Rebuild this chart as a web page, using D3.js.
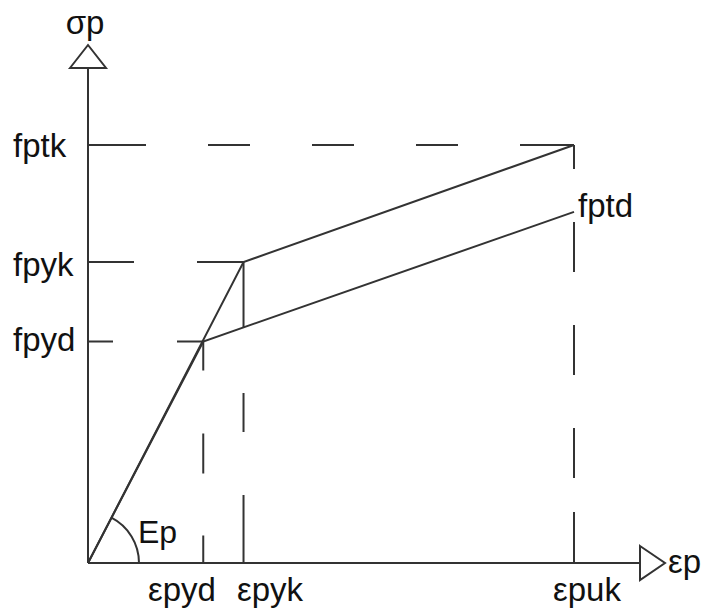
<!DOCTYPE html>
<html>
<head>
<meta charset="utf-8">
<script src="https://cdn.jsdelivr.net/npm/d3@7"></script>
<style>
  html, body { margin: 0; padding: 0; background: #fff; }
  svg { display: block; }
  text { font-family: "Liberation Sans", Arial, sans-serif; fill: #111; }
</style>
</head>
<body>
<svg id="chart" width="709" height="616"></svg>
<script>
// Idealised stress-strain diagram for prestressing steel (schematic units)
const strainNames = ["εpyd", "εpyk", "εpuk"];
const strainValues = [8.3, 11.2, 35];          // strain at design yield, characteristic yield, ultimate
const stressNames = ["fptk", "fpyk", "fpyd"];
const stressValues = [100, 72, 53];            // tensile strength, char. yield, design yield
const fptdValue = 84;                          // design stress at ultimate strain
const characteristicCurve = [[0, 0], [11.2, 72], [35, 100]];
const designCurve = [[0, 0], [8.3, 53], [35, 84]];

const W = 709, H = 616;
const svg = d3.select("#chart");
const ink = "#333";

const x = d3.scaleLinear().domain([0, 35]).range([88, 574]);
const y = d3.scaleLinear().domain([0, 100]).range([563, 145]);

const x0 = x(0), y0 = y(0);
const xAxisEnd = 640, yAxisEnd = 68;

// reference lines (long dashes)
const dashH = { fptk: "58,62,42,62,42,62,42,62,57", fpyk: "46,63,47", fpyd: "25,64,26" };
const dashV = { "εpuk": "24,53,50,53,50,53,50,34,51", "εpyk": "66,65,39,63,68", "εpyd": "29,63,40,62,28" };
const guide = svg.append("g").attr("stroke", ink).attr("stroke-width", 2).attr("fill", "none");
const levelStrain = { fptk: 35, fpyk: 11.2, fpyd: 8.3 };
stressNames.forEach((n, i) => {
  guide.append("line")
    .attr("x1", x0).attr("x2", x(levelStrain[n]))
    .attr("y1", y(stressValues[i])).attr("y2", y(stressValues[i]))
    .attr("stroke-dasharray", dashH[n]);
});
const strainTop = { "εpyd": 53, "εpyk": 72, "εpuk": 100 };
strainNames.forEach((n, i) => {
  guide.append("line")
    .attr("x1", x(strainValues[i])).attr("x2", x(strainValues[i]))
    .attr("y1", y(strainTop[n])).attr("y2", y0)
    .attr("stroke-dasharray", dashV[n]);
});

// axes
const axes = svg.append("g").attr("stroke", ink).attr("stroke-width", 2).attr("fill", "none");
axes.append("line").attr("x1", x0).attr("y1", y0).attr("x2", x0).attr("y2", yAxisEnd);
axes.append("line").attr("x1", x0).attr("y1", y0).attr("x2", xAxisEnd).attr("y2", y0);
// open arrow heads
axes.append("path").attr("fill", "#fff")
  .attr("d", `M${x0 - 18},${yAxisEnd} L${x0},${yAxisEnd - 23} L${x0 + 18},${yAxisEnd} Z`);
axes.append("path").attr("fill", "#fff")
  .attr("d", `M${xAxisEnd},${y0 - 17} L${xAxisEnd + 25},${y0} L${xAxisEnd},${y0 + 17} Z`);

// curves
const line = d3.line().x(d => x(d[0])).y(d => y(d[1]));
const curves = svg.append("g").attr("stroke", ink).attr("stroke-width", 2).attr("fill", "none");
curves.append("path").attr("d", line(characteristicCurve));
curves.append("path").attr("d", line(designCurve));

// modulus arc
const ang = Math.atan2(y0 - y(72), x(11.2) - x0);
const r = 51;
curves.append("path")
  .attr("d", `M${x0 + r},${y0} A${r},${r} 0 0 0 ${x0 + r * Math.cos(ang)},${y0 - r * Math.sin(ang)}`);

// labels
const fs = 33;
const t = svg.append("g").attr("font-size", fs);
t.append("text").attr("x", x0 - 3).attr("y", 34).attr("text-anchor", "middle").text("σp");
t.append("text").attr("x", xAxisEnd + 28).attr("y", y0 + 10).text("εp");
const stressDy = [12, 14, 10];
stressNames.forEach((n, i) => {
  t.append("text").attr("x", 13).attr("y", y(stressValues[i]) + stressDy[i]).text(n);
});
const strainLabelX = { "εpyd": 148, "εpyk": 237, "εpuk": 553 };
strainNames.forEach(n => {
  t.append("text").attr("x", strainLabelX[n]).attr("y", 601).attr("textLength", null).text(n);
});
t.append("text").attr("x", x(35) + 4).attr("y", y(fptdValue) + 5).text("fptd");
t.append("text").attr("x", 138).attr("y", 543).attr("font-size", 32).text("Ep");
</script>
</body>
</html>
